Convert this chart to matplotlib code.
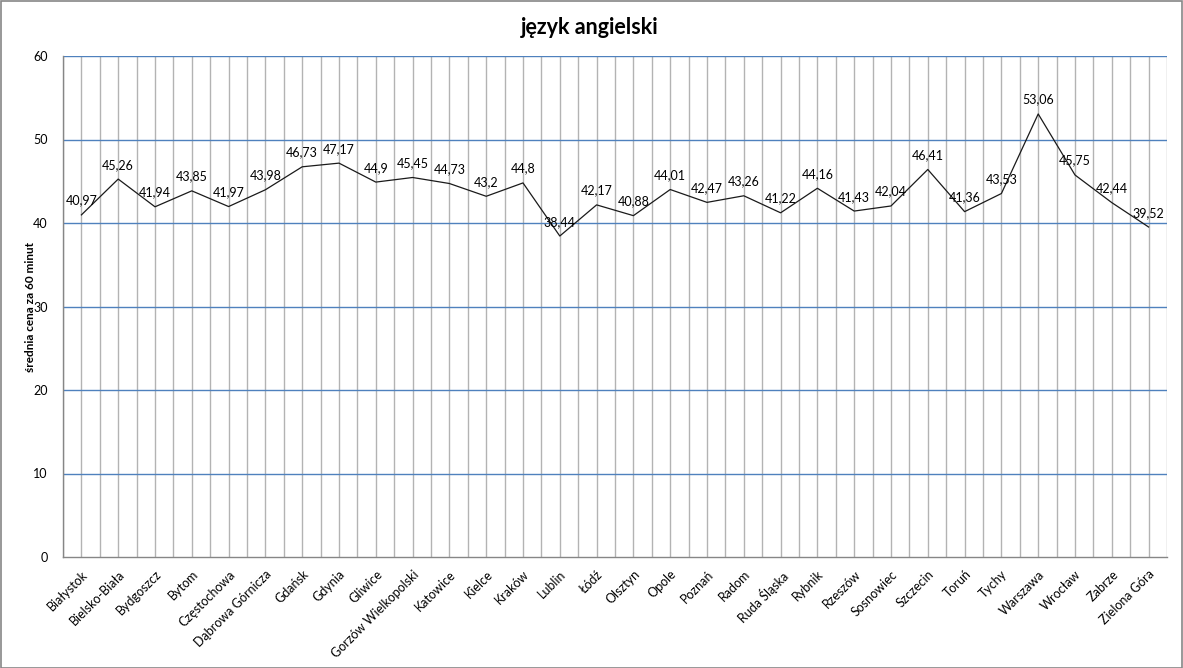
import matplotlib
matplotlib.use("Agg")
import matplotlib.pyplot as plt
from matplotlib.patches import Rectangle

plt.rcParams['font.family'] = ['Lato', 'DejaVu Sans']

cities = ["Białystok", "Bielsko-Biała", "Bydgoszcz", "Bytom", "Częstochowa",
          "Dąbrowa Górnicza", "Gdańsk", "Gdynia", "Gliwice", "Gorzów Wielkopolski",
          "Katowice", "Kielce", "Kraków", "Lublin", "Łódź", "Olsztyn", "Opole",
          "Poznań", "Radom", "Ruda Śląska", "Rybnik", "Rzeszów", "Sosnowiec",
          "Szczecin", "Toruń", "Tychy", "Warszawa", "Wrocław", "Zabrze",
          "Zielona Góra"]
prices = [40.97, 45.26, 41.94, 43.85, 41.97, 43.98, 46.73, 47.17, 44.9, 45.45,
          44.73, 43.2, 44.8, 38.44, 42.17, 40.88, 44.01, 42.47, 43.26, 41.22,
          44.16, 41.43, 42.04, 46.41, 41.36, 43.53, 53.06, 45.75, 42.44, 39.52]
y_ticks = [0, 10, 20, 30, 40, 50, 60]
title = "język angielski"
y_label = "średnia cena za 60 minut"

W, H = 1183, 668
fig = plt.figure(figsize=(W / 100, H / 100), dpi=100)
ax = fig.add_axes([63 / W, 1 - 557 / H, (1167 - 63) / W, (557 - 56) / H])

n = len(cities)
x = list(range(n))
ax.set_xlim(-0.5, n - 0.5)
ax.set_ylim(0, 60)

# vertical gridlines at category boundaries and centers
for i in range(n):
    ax.axvline(i, color='#b3b3b3', lw=1.0, zorder=0)
for i in range(n + 1):
    ax.axvline(i - 0.5, color='#b3b3b3', lw=1.0, zorder=0)
for t in y_ticks[1:]:
    ax.axhline(t, color='#4f81bd', lw=1.0, zorder=1)

ax.plot(x, prices, color='#1a1a1a', lw=0.9, zorder=3)

for xi, v in zip(x, prices):
    ax.annotate(f"{v:g}".replace('.', ','), (xi, v), xytext=(0, 6),
                textcoords='offset points', ha='center', va='bottom',
                fontsize=9, color='black', zorder=4)

ax.set_yticks(y_ticks)
ax.set_yticklabels([str(t) for t in y_ticks], fontsize=9)
ax.set_xticks(x)
ax.set_xticklabels(cities, rotation=45, ha='right', rotation_mode='anchor', fontsize=9)
ax.tick_params(axis='x', length=0, pad=8)
ax.tick_params(axis='y', length=0, pad=11)

for s in ['top', 'right']:
    ax.spines[s].set_visible(False)
for s in ['left', 'bottom']:
    ax.spines[s].set_color('#868686')
    ax.spines[s].set_linewidth(1.0)

fig.text(30 / W, 1 - 307 / H, y_label, rotation=90, ha='center', va='center',
         fontsize=8.5, fontweight='bold')
fig.text(590 / W, 1 - 27 / H, title, ha='center', va='center',
         fontsize=15.5, fontweight='bold')

fig.patches.append(Rectangle((0.5 / W, 0.5 / H), 1 - 1.5 / W, 1 - 1.5 / H,
                             transform=fig.transFigure, fill=False,
                             edgecolor='#868686', lw=1.2))

fig.savefig("out.png", dpi=100)
